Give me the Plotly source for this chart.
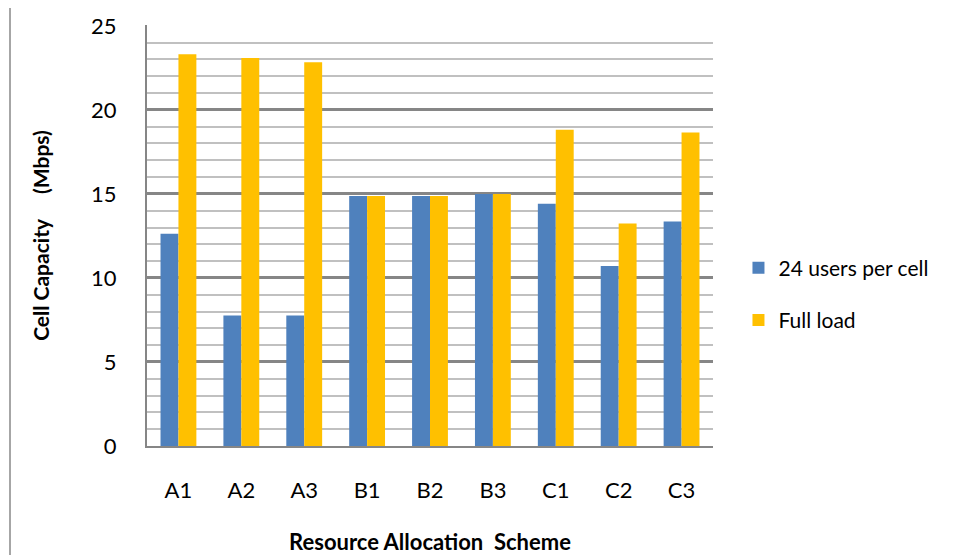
import plotly.graph_objects as go

# Cell capacity (Mbps) per resource allocation scheme
schemes = ["A1", "A2", "A3", "B1", "B2", "B3", "C1", "C2", "C3"]
users_24 = [12.63, 7.76, 7.76, 14.88, 14.88, 15.0, 14.41, 10.71, 13.36]
full_load = [23.31, 23.08, 22.84, 14.88, 14.88, 15.0, 18.82, 13.24, 18.66]

FONT = "Lato, Carlito, Calibri, sans-serif"

fig = go.Figure()
fig.add_trace(go.Bar(
    x=schemes, y=users_24, name="24 users per cell",
    marker=dict(color="#4F81BD", line=dict(width=0)),
    legendgroup="g1",
))
fig.add_trace(go.Bar(
    x=schemes, y=full_load, name="Full load",
    marker=dict(color="#FFC000", line=dict(width=0)),
    legendgroup="g2",
))

fig.update_layout(
    width=967, height=555,
    margin=dict(l=147, r=254, t=25, b=109),
    paper_bgcolor="white", plot_bgcolor="white",
    barmode="group", bargap=0.43, bargroupgap=0,
    font=dict(family=FONT, size=22, color="#000000"),
    legend=dict(
        x=1.045, y=0.361, xanchor="left", yanchor="middle",
        font=dict(family=FONT, size=21, color="#000000"),
        tracegroupgap=22, itemwidth=30,
        bgcolor="rgba(0,0,0,0)",
    ),
    showlegend=True,
)

fig.update_xaxes(
    type="category", automargin=False,
    showline=True, linecolor="#868686", linewidth=2,
    showgrid=False, ticks="", ticklabelstandoff=24,
    tickfont=dict(family=FONT, size=22),
    title=dict(text="<b>Resource Allocation  Scheme</b>",
               font=dict(family=FONT, size=22), standoff=32),
)

fig.update_yaxes(
    range=[0, 25.05], dtick=5, tick0=0, automargin=False,
    showline=True, linecolor="#868686", linewidth=2,
    showgrid=True, gridcolor="#868686", gridwidth=3,
    minor=dict(dtick=1, showgrid=True, gridcolor="#C0C0C0", gridwidth=2),
    zeroline=False, ticks="", ticklabelstandoff=24,
    tickfont=dict(family=FONT, size=22),
    title=dict(text="<b>Cell Capacity     (Mbps)</b>",
               font=dict(family=FONT, size=21), standoff=36),
)

# Thin vertical rule at the far left of the page
fig.add_shape(
    type="line", xref="paper", yref="paper",
    x0=(10 - 147) / 566, x1=(10 - 147) / 566,
    y0=(446 - 8) / 421, y1=-109 / 421,
    line=dict(color="#A6A6A6", width=2),
)

fig.write_html("out.html")
